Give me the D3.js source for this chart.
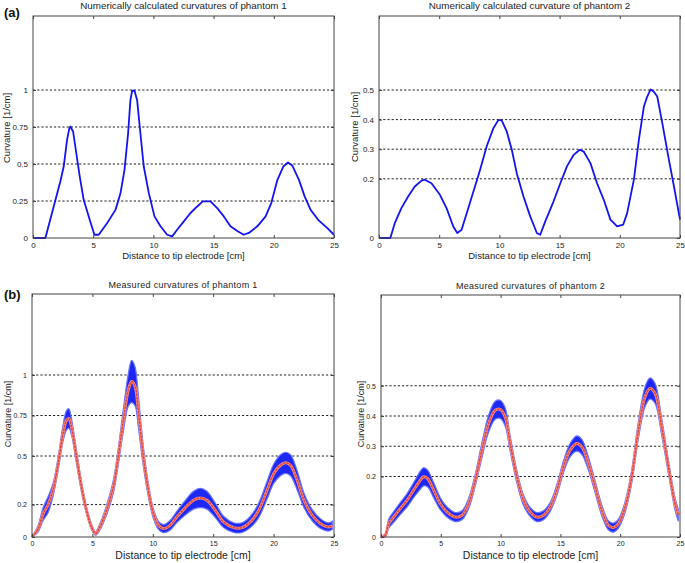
<!DOCTYPE html>
<html><head><meta charset="utf-8">
<script src="https://cdn.jsdelivr.net/npm/d3@7/dist/d3.min.js"></script>
<style>
html,body{margin:0;padding:0;background:#fff;}
svg{display:block;font-family:"Liberation Sans",Arial,sans-serif;}
</style></head>
<body>
<svg id="c" width="685" height="563"></svg>
<script>
// ---------- data ----------
const xTicks = [0, 5, 10, 15, 20, 25];
const num1Ticks = [0, 0.25, 0.5, 0.75, 1];
const num2Ticks = [0, 0.2, 0.3, 0.4, 0.5];
const meas1Ticks = [0, 0.2, 0.5, 0.75, 1];
const meas2Ticks = [0, 0.2, 0.3, 0.4, 0.5];

const num1X = [0,1.03,1.72,2.27,2.55,2.83,3.02,3.1,3.33,3.88,4.21,4.71,5.1,5.46,6.15,6.85,7.26,7.6,7.9,8.09,8.23,8.43,8.65,8.92,9.2,9.62,10.09,10.59,11.14,11.56,11.97,12.53,13.08,13.64,14.1,14.74,15.3,15.85,16.4,17.0,17.5,17.93,18.63,19.32,19.79,20.3,20.79,21.18,21.53,22.09,22.56,23.06,23.75,24.45,25];
const num1Y = [0,0,0.213,0.382,0.483,0.663,0.742,0.753,0.72,0.416,0.258,0.124,0.022,0.022,0.10,0.19,0.30,0.46,0.708,0.93,0.995,0.995,0.93,0.708,0.483,0.303,0.146,0.079,0.022,0.011,0.056,0.112,0.169,0.213,0.247,0.247,0.202,0.146,0.079,0.045,0.022,0.034,0.079,0.146,0.236,0.393,0.483,0.51,0.49,0.393,0.281,0.19,0.117,0.067,0.022];

const num2X = [0,0.94,1.31,1.86,2.42,2.97,3.53,3.8,4.36,5.06,5.61,6.17,6.5,6.86,7.42,7.97,8.39,8.94,9.5,9.92,10.19,10.61,11.03,11.44,12.0,12.56,13.11,13.39,13.81,14.5,15.06,15.61,16.17,16.67,17.0,17.56,18.11,18.67,19.22,19.78,20.28,20.61,21.17,21.58,22.0,22.28,22.56,22.83,23.11,23.53,24.08,24.5,25];
const num2Y = [0,0,0.05,0.101,0.14,0.174,0.194,0.197,0.185,0.146,0.101,0.039,0.017,0.028,0.101,0.174,0.23,0.309,0.371,0.399,0.397,0.36,0.298,0.219,0.14,0.073,0.017,0.011,0.056,0.124,0.185,0.242,0.281,0.298,0.292,0.253,0.185,0.129,0.062,0.039,0.045,0.084,0.197,0.331,0.444,0.478,0.502,0.494,0.478,0.388,0.264,0.174,0.062];

const meas1X = [0,0.5,0.91,1.33,1.74,2.16,2.57,2.85,3.05,3.27,3.68,4.1,4.51,4.93,5.26,5.62,6.17,6.73,7.14,7.56,7.97,8.25,8.53,8.8,9.22,9.63,10.05,10.47,10.88,11.43,11.99,12.68,13.37,13.93,14.48,15.17,15.86,16.69,17.39,18.08,18.77,19.46,20.02,20.57,20.99,21.4,21.95,22.51,23.2,23.89,24.58,24.86];
const meas1Y = [0,0.05,0.14,0.2,0.29,0.45,0.64,0.72,0.732,0.68,0.495,0.309,0.165,0.062,0.021,0.062,0.165,0.309,0.495,0.72,0.907,0.96,0.93,0.78,0.495,0.289,0.144,0.072,0.052,0.072,0.124,0.18,0.227,0.241,0.227,0.165,0.093,0.058,0.058,0.093,0.165,0.289,0.392,0.443,0.458,0.443,0.35,0.227,0.134,0.082,0.062,0.072];
const meas1Err = [0,0.02,0.04,0.05,0.04,0.04,0.05,0.06,0.06,0.05,0.04,0.03,0.02,0.015,0.01,0.02,0.03,0.04,0.05,0.07,0.1,0.13,0.12,0.1,0.06,0.04,0.03,0.025,0.025,0.03,0.035,0.045,0.055,0.06,0.055,0.045,0.035,0.03,0.03,0.035,0.045,0.055,0.06,0.065,0.065,0.065,0.06,0.045,0.035,0.03,0.025,0.025];

const meas2X = [0,0.36,0.64,1.06,1.61,2.17,2.73,3.29,3.56,3.9,4.4,4.96,5.51,6.21,6.77,7.32,7.88,8.44,9.0,9.55,9.97,10.38,10.8,11.36,11.92,12.47,13.03,13.59,14.14,14.7,15.26,15.81,16.37,16.79,17.34,17.9,18.46,19.01,19.43,19.85,20.41,20.96,21.52,22.08,22.49,22.91,23.47,24.03,24.58,24.86];
const meas2Y = [0,0.006,0.044,0.066,0.094,0.121,0.155,0.188,0.199,0.193,0.155,0.11,0.083,0.066,0.072,0.11,0.188,0.287,0.375,0.419,0.422,0.397,0.309,0.199,0.121,0.083,0.066,0.072,0.099,0.155,0.232,0.287,0.309,0.298,0.243,0.166,0.088,0.039,0.031,0.044,0.099,0.199,0.353,0.464,0.491,0.475,0.364,0.232,0.11,0.072];
const meas2Err = [0,0.005,0.015,0.018,0.02,0.022,0.025,0.03,0.03,0.028,0.025,0.02,0.017,0.015,0.015,0.017,0.02,0.025,0.028,0.03,0.03,0.03,0.025,0.02,0.017,0.015,0.015,0.015,0.015,0.018,0.02,0.022,0.025,0.025,0.022,0.02,0.018,0.015,0.015,0.015,0.018,0.022,0.028,0.033,0.035,0.033,0.028,0.022,0.02,0.02];

// ---------- drawing ----------
const svg = d3.select("#c");

function panel(o) {
  const x = d3.scaleLinear().domain([0, 25]).range([o.x0, o.x1]);
  const y = d3.scaleLinear().domain([0, o.ymax]).range([o.y0, o.y1]);
  const g = svg.append("g");

  // dashed grid
  g.selectAll("line.grid").data(o.yTicks.filter(v => v > 0)).enter().append("line")
    .attr("x1", o.x0).attr("x2", o.x1)
    .attr("y1", d => y(d)).attr("y2", d => y(d))
    .attr("stroke", "#222").attr("stroke-width", 1).attr("stroke-dasharray", "2.2,2");

  // data
  if (o.err) {
    const pts = o.xs.map((v, i) => ({x: v, y: o.ys[i], e: o.err[i]}));
    const area = d3.area().curve(d3.curveCatmullRom.alpha(0.5))
      .x(d => x(d.x)).y0(d => y(Math.max(0, d.y - d.e))).y1(d => y(d.y + d.e));
    g.append("path").datum(pts).attr("d", area)
      .attr("fill", "#1e28f5").attr("stroke", "#6a74ff").attr("stroke-width", 1.2);
    const line = d3.line().curve(d3.curveCatmullRom.alpha(0.5)).x(d => x(d.x)).y(d => y(d.y));
    g.append("path").datum(pts).attr("d", line)
      .attr("fill", "none").attr("stroke", "#f08a80").attr("stroke-width", 3);
    g.append("path").datum(pts).attr("d", line)
      .attr("fill", "none").attr("stroke", "#e8392e").attr("stroke-width", 1.3)
      .attr("stroke-dasharray", "2.5,1");
  } else {
    const pts = o.xs.map((v, i) => ({x: v, y: o.ys[i]}));
    const line = d3.line().x(d => x(d.x)).y(d => y(d.y));
    g.append("path").datum(pts).attr("d", line)
      .attr("fill", "none").attr("stroke", "#1414f0").attr("stroke-width", 1.8)
      .attr("stroke-linejoin", "round");
  }

  // box
  g.append("rect").attr("x", o.x0).attr("y", o.y1)
    .attr("width", o.x1 - o.x0).attr("height", o.y0 - o.y1)
    .attr("fill", "none").attr("stroke", "#444").attr("stroke-width", 1);

  // axes (ticks inward)
  const xb = d3.axisBottom(x).tickValues(xTicks).tickSizeInner(-3).tickSizeOuter(0).tickPadding(4).tickFormat(d3.format("d"));
  const xt = d3.axisTop(x).tickValues(xTicks).tickSizeInner(-3).tickSizeOuter(0).tickFormat("");
  const yl = d3.axisLeft(y).tickValues(o.yTicks).tickSizeInner(-3).tickSizeOuter(0).tickPadding(5).tickFormat(d => String(d));
  const yr = d3.axisRight(y).tickValues(o.yTicks).tickSizeInner(-3).tickSizeOuter(0).tickFormat("");
  const axes = [
    g.append("g").attr("transform", `translate(0,${o.y0})`).call(xb),
    g.append("g").attr("transform", `translate(0,${o.y1})`).call(xt),
    g.append("g").attr("transform", `translate(${o.x0},0)`).call(yl),
    g.append("g").attr("transform", `translate(${o.x1},0)`).call(yr)
  ];
  axes.forEach(a => {
    a.select(".domain").remove();
    a.selectAll(".tick line").attr("stroke", "#444");
    a.selectAll("text").attr("font-family", "Liberation Sans, Arial, sans-serif")
      .attr("font-size", o.tickFs).attr("fill", "#222");
  });

  // titles and labels
  g.append("text").attr("x", (o.x0 + o.x1) / 2).attr("y", o.titleY)
    .attr("text-anchor", "middle").attr("font-size", o.titleFs).attr("fill", "#222")
    .attr("letter-spacing", o.titleLs)
    .text(o.title);
  g.append("text").attr("x", (o.x0 + o.x1) / 2).attr("y", o.xlabY)
    .attr("text-anchor", "middle").attr("font-size", o.xlabFs).attr("fill", "#222")
    .text("Distance to tip electrode [cm]");
  g.append("text").attr("transform", `translate(${o.ylabX},${o.ylabCY}) rotate(-90)`)
    .attr("text-anchor", "middle").attr("font-size", o.ylabFs).attr("fill", "#222")
    .text(o.ylab);
}

panel({x0: 33, x1: 334, y0: 238, y1: 16, ymax: 1.5, yTicks: num1Ticks, xs: num1X, ys: num1Y,
  title: "Numerically calculated curvatures of phantom 1", titleY: 9, titleFs: 9.8, titleLs: 0, xlabY: 259, xlabFs: 9.5,
  ylab: "Curvature [1/cm]", ylabX: 10, ylabCY: 128, ylabFs: 9.5, tickFs: 8});
panel({x0: 379, x1: 680, y0: 238, y1: 16, ymax: 0.75, yTicks: num2Ticks, xs: num2X, ys: num2Y,
  title: "Numerically calculated curvature of phantom 2", titleY: 9, titleFs: 9.8, titleLs: 0, xlabY: 259, xlabFs: 9.5,
  ylab: "Curvature [1/cm]", ylabX: 358, ylabCY: 127, ylabFs: 9.5, tickFs: 8});
panel({x0: 32, x1: 334, y0: 537, y1: 294, ymax: 1.5, yTicks: meas1Ticks, xs: meas1X, ys: meas1Y, err: meas1Err,
  title: "Measured curvatures of phantom 1", titleY: 288, titleFs: 9, titleLs: 0.3, xlabY: 559, xlabFs: 10.5,
  ylab: "Curvature [1/cm]", ylabX: 11, ylabCY: 414, ylabFs: 9, tickFs: 7});
panel({x0: 381, x1: 680, y0: 537, y1: 295, ymax: 0.8, yTicks: meas2Ticks, xs: meas2X, ys: meas2Y, err: meas2Err,
  title: "Measured curvatures of phantom 2", titleY: 289, titleFs: 9, titleLs: 0.3, xlabY: 559, xlabFs: 10.5,
  ylab: "Curvature [1/cm]", ylabX: 364, ylabCY: 414, ylabFs: 9, tickFs: 7});

svg.append("text").attr("x", 4).attr("y", 17).attr("font-size", 13).attr("font-weight", "bold")
  .attr("fill", "#111").text("(a)");
svg.append("text").attr("x", 4).attr("y", 299).attr("font-size", 13).attr("font-weight", "bold")
  .attr("fill", "#111").text("(b)");
</script>
</body></html>
